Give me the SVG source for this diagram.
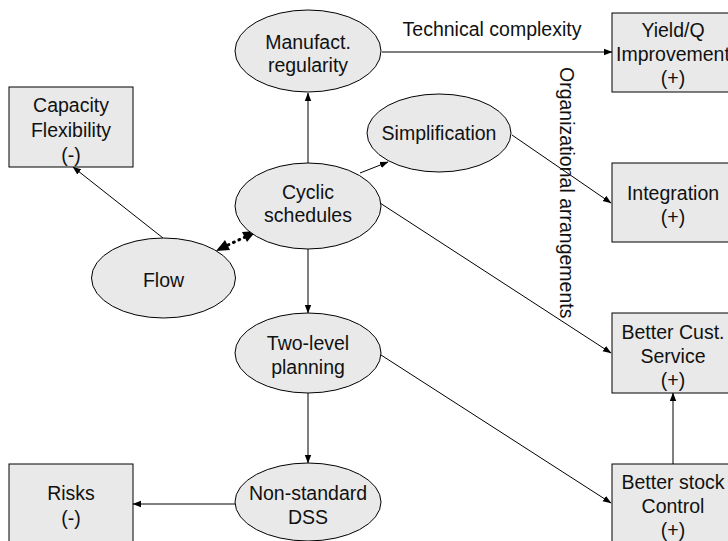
<svg xmlns="http://www.w3.org/2000/svg" width="728" height="541" viewBox="0 0 728 541">
<style>
.n{fill:#e9e9e9;stroke:#000;stroke-width:1}
.t{font-family:"Liberation Sans",Arial,sans-serif;font-size:19.5px;fill:#111;text-anchor:middle}
.c{stroke:#000;stroke-width:1;fill:none;marker-end:url(#a)}
.d{stroke:#000;stroke-width:3;fill:none;stroke-dasharray:1 5;stroke-linecap:round}
</style>
<defs>
<marker id="a" markerWidth="9" markerHeight="8" refX="8" refY="4" orient="auto" markerUnits="userSpaceOnUse">
<path d="M0,0.8 L8.5,4 L0,7.2 z" fill="#000"/>
</marker>
<marker id="b" markerWidth="14" markerHeight="12" refX="12" refY="6" orient="auto" markerUnits="userSpaceOnUse">
<path d="M0,0.5 L12.5,6 L0,11.5 z" fill="#000"/>
</marker>
</defs>
<rect width="728" height="541" fill="#fff"/>
<g id="connectors">
<line class="c" x1="382" y1="52" x2="612" y2="52"/>
<line class="c" x1="308" y1="163" x2="308" y2="93"/>
<line class="c" x1="308" y1="249" x2="308" y2="313"/>
<line class="c" x1="360" y1="173" x2="388" y2="162"/>
<line class="c" x1="380" y1="203" x2="611" y2="353"/>
<line class="c" x1="512" y1="135" x2="611" y2="203"/>
<line class="c" x1="381" y1="355" x2="611" y2="503"/>
<line class="c" x1="308" y1="393" x2="308" y2="463"/>
<line class="c" x1="235" y1="504" x2="133" y2="504"/>
<line class="c" x1="673" y1="464" x2="673" y2="393"/>
<line class="c" x1="163" y1="238" x2="73" y2="167"/>
<line class="d" x1="228" y1="245" x2="245" y2="237"/>
<path d="M216,251 L225,240 L230,250 z" fill="#000"/>
<path d="M256,231 L247,242 L242,232 z" fill="#000"/>
<text class="t" x="492" y="36">Technical complexity</text>
<text class="t" style="text-anchor:start" transform="translate(560,67) rotate(90)">Organizational arrangements</text>
</g>
<g id="manufact">
<ellipse class="n" cx="308" cy="51" rx="73" ry="41"/>
<text class="t" x="308" y="49">Manufact.</text>
<text class="t" x="308" y="72">regularity</text>
</g>
<g id="cyclic">
<ellipse class="n" cx="308" cy="206" rx="73" ry="43"/>
<text class="t" x="308" y="199">Cyclic</text>
<text class="t" x="308" y="222">schedules</text>
</g>
<g id="simplification">
<ellipse class="n" cx="439" cy="133" rx="72" ry="39"/>
<text class="t" x="439" y="140">Simplification</text>
</g>
<g id="flow">
<ellipse class="n" cx="163.5" cy="278" rx="72" ry="40"/>
<text class="t" x="163.5" y="287">Flow</text>
</g>
<g id="twolevel">
<ellipse class="n" cx="308" cy="353" rx="73" ry="40"/>
<text class="t" x="308" y="350">Two-level</text>
<text class="t" x="308" y="374">planning</text>
</g>
<g id="nonstandard">
<ellipse class="n" cx="308" cy="502" rx="73" ry="39"/>
<text class="t" x="308" y="500">Non-standard</text>
<text class="t" x="308" y="524">DSS</text>
</g>
<g id="capacity">
<rect class="n" x="9" y="87" width="124" height="80"/>
<text class="t" x="71" y="112">Capacity</text>
<text class="t" x="71" y="137">Flexibility</text>
<text class="t" x="71" y="162">(-)</text>
</g>
<g id="risks">
<rect class="n" x="9" y="464" width="124" height="90"/>
<text class="t" x="71" y="500">Risks</text>
<text class="t" x="71" y="525">(-)</text>
</g>
<g id="yield">
<rect class="n" x="612" y="13" width="124" height="79"/>
<text class="t" x="673" y="37">Yield/Q</text>
<text class="t" x="673" y="61">Improvement</text>
<text class="t" x="673" y="85">(+)</text>
</g>
<g id="integration">
<rect class="n" x="612" y="163" width="124" height="79"/>
<text class="t" x="673" y="200">Integration</text>
<text class="t" x="673" y="224">(+)</text>
</g>
<g id="custservice">
<rect class="n" x="612" y="313" width="124" height="80"/>
<text class="t" x="673" y="339">Better Cust.</text>
<text class="t" x="673" y="363">Service</text>
<text class="t" x="673" y="387">(+)</text>
</g>
<g id="stock">
<rect class="n" x="612" y="464" width="124" height="90"/>
<text class="t" x="673" y="489">Better stock</text>
<text class="t" x="673" y="513">Control</text>
<text class="t" x="673" y="537">(+)</text>
</g>
</svg>
